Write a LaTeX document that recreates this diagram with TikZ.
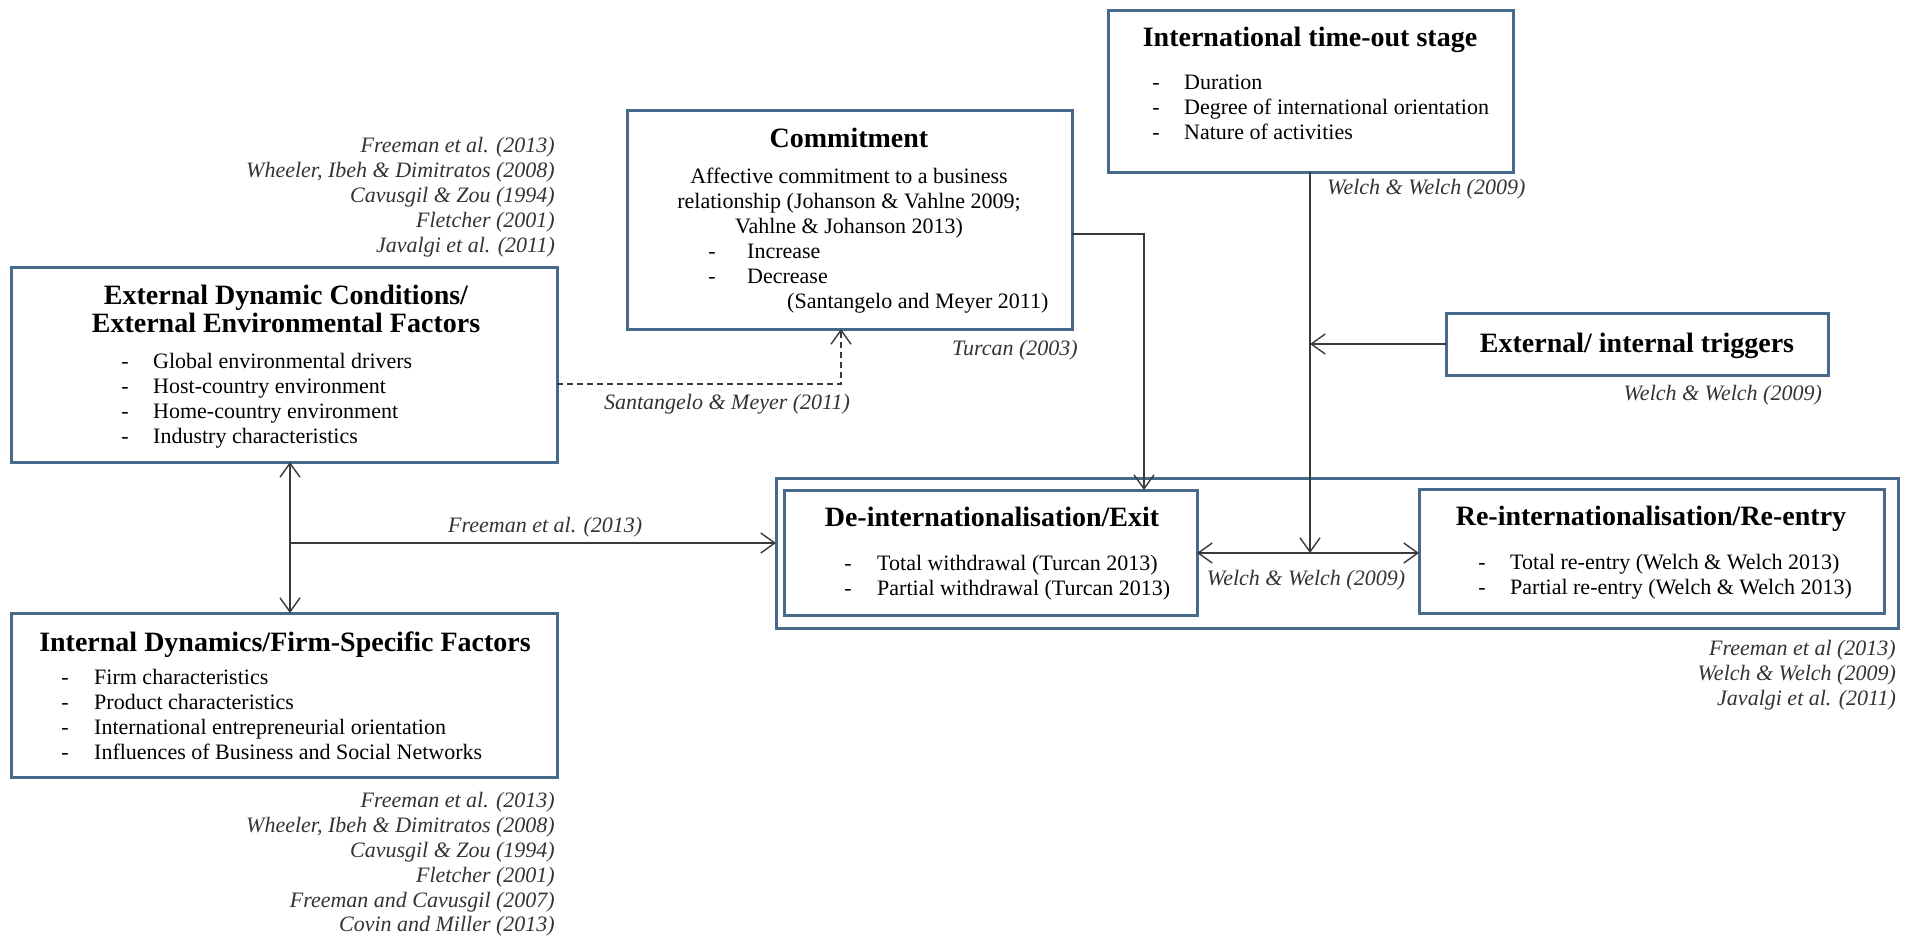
\documentclass[tikz,border=0pt]{standalone}
\usepackage{fontspec}
\setmainfont{Liberation Serif}
\usetikzlibrary{arrows.meta}
\definecolor{boxblue}{HTML}{46698C}
\definecolor{linegray}{HTML}{3A3A3A}
\definecolor{citegray}{HTML}{333333}
\newcommand{\ttlsize}{\fontsize{28}{28}\selectfont\bfseries}
\newcommand{\bodysize}{\fontsize{22}{25}\selectfont}
\newcommand{\citesize}{\fontsize{22}{25}\selectfont\itshape}
% bullet row: name, dash x, text x, baseline y, text
\newcommand{\itemrow}[5]{%
  \node[txt,anchor=base] (#1d) at (#2,#4) {-};
  \node[txt,anchor=base west] (#1) at (#3,#4) {#5};}
% right-aligned italic reference: name, right x, baseline y, text
\newcommand{\citeR}[4]{\node[cite,anchor=base east] (#1) at (#2,#3) {#4};}
\begin{document}
\begin{tikzpicture}[x=1pt,y=-1pt,
  box/.style={draw=boxblue,line width=3pt,inner sep=0pt,outer sep=0pt,rectangle},
  conn/.style={draw=linegray,line width=1.4pt},
  >={Straight Barb[length=14pt,width=20pt]},
  ttl/.style={font=\ttlsize,inner sep=0pt,anchor=base},
  txt/.style={font=\bodysize,inner sep=0pt},
  cite/.style={font=\citesize,text=citegray,inner sep=0pt},
]
\fill[white] (0,0) rectangle (1914,937);
\useasboundingbox (0,0) rectangle (1914,937);

% ---------- boxes ----------
\node[box,minimum width=546pt,minimum height=195pt] (ext) at (284,364.5) {};
\node[box,minimum width=546pt,minimum height=164pt] (int) at (284,695) {};
\node[box,minimum width=445pt,minimum height=219pt] (com) at (849.5,219.5) {};
\node[box,minimum width=405pt,minimum height=162pt] (tout) at (1310.5,91) {};
\node[box,minimum width=382pt,minimum height=62pt] (trig) at (1637,344) {};
\node[box,minimum width=1122pt,minimum height=150pt] (outer) at (1337,553) {};
\node[box,minimum width=413pt,minimum height=125pt] (deint) at (990.5,552.5) {};
\node[box,minimum width=465pt,minimum height=124pt] (reint) at (1651.5,551) {};

% ---------- external factors ----------
\citeR{ca1}{555}{152}{Freeman et al. (2013)}
\citeR{ca2}{555}{177}{Wheeler, Ibeh \& Dimitratos (2008)}
\citeR{ca3}{555}{202}{Cavusgil \& Zou (1994)}
\citeR{ca4}{555}{227}{Fletcher (2001)}
\citeR{ca5}{555}{252}{Javalgi et al. (2011)}
\node[ttl] (extt1) at (286,304) {External Dynamic Conditions/};
\node[ttl] (extt2) at (286,332) {External Environmental Factors};
\itemrow{exa}{125}{153}{368}{Global environmental drivers}
\itemrow{exb}{125}{153}{393}{Host-country environment}
\itemrow{exc}{125}{153}{418}{Home-country environment}
\itemrow{exd}{125}{153}{443}{Industry characteristics}

% ---------- internal factors ----------
\node[ttl] (intt) at (285,651) {Internal Dynamics/Firm-Specific Factors};
\itemrow{ina}{65}{94}{684}{Firm characteristics}
\itemrow{inb}{65}{94}{709}{Product characteristics}
\itemrow{inc}{65}{94}{734}{International entrepreneurial orientation}
\itemrow{ind}{65}{94}{759}{Influences of Business and Social Networks}
\citeR{cb1}{555}{807}{Freeman et al. (2013)}
\citeR{cb2}{555}{832}{Wheeler, Ibeh \& Dimitratos (2008)}
\citeR{cb3}{555}{857}{Cavusgil \& Zou (1994)}
\citeR{cb4}{555}{882}{Fletcher (2001)}
\citeR{cb5}{555}{907}{Freeman and Cavusgil (2007)}
\citeR{cb6}{555}{931}{Covin and Miller (2013)}

% ---------- commitment ----------
\node[ttl] (comt) at (849,147) {Commitment};
\node[txt,anchor=base] (coml1) at (849,183) {Affective commitment to a business};
\node[txt,anchor=base] (coml2) at (849,208) {relationship (Johanson \& Vahlne 2009;};
\node[txt,anchor=base] (coml3) at (849,233) {Vahlne \& Johanson 2013)};
\itemrow{cma}{712}{747}{258}{Increase}
\itemrow{cmb}{712}{747}{283}{Decrease}
\node[txt,anchor=base west] (coml4) at (787,308) {(Santangelo and Meyer 2011)};
\citeR{cturc}{1078}{355}{Turcan (2003)}

% ---------- time-out stage ----------
\node[ttl] (toutt) at (1310,46) {International time-out stage};
\itemrow{toa}{1156}{1184}{89}{Duration}
\itemrow{tob}{1156}{1184}{114}{Degree of international orientation}
\itemrow{toc}{1156}{1184}{139}{Nature of activities}
\node[cite,anchor=base west] (ctout) at (1327,194) {Welch \& Welch (2009)};

% ---------- triggers ----------
\node[ttl] (trigt) at (1637,352) {External/ internal triggers};
\citeR{ctrig}{1822}{400}{Welch \& Welch (2009)}

% ---------- exit / re-entry ----------
\node[ttl] (deintt) at (992,526) {De-internationalisation/Exit};
\itemrow{dea}{848}{877}{570}{Total withdrawal (Turcan 2013)}
\itemrow{deb}{848}{877}{595}{Partial withdrawal (Turcan 2013)}
\node[ttl] (reintt) at (1651,525) {Re-internationalisation/Re-entry};
\itemrow{rea}{1482}{1510}{569}{Total re-entry (Welch \& Welch 2013)}
\itemrow{reb}{1482}{1510}{594}{Partial re-entry (Welch \& Welch 2013)}
\citeR{cc1}{1896}{655}{Freeman et al (2013)}
\citeR{cc2}{1896}{680}{Welch \& Welch (2009)}
\citeR{cc3}{1896}{705}{Javalgi et al. (2011)}

% ---------- connectors ----------
\coordinate (j1) at (290,543);
\draw[conn,<->] (ext.south -| j1) -- (int.north -| j1);
\draw[conn,->] (j1) -- (j1 -| outer.west);
\node[cite,anchor=base west] (lblfree) at (448,532) {Freeman et al. (2013)};

\coordinate (d1) at (841,384);
\draw[conn,dash pattern=on 6pt off 4pt,->] (d1 -| ext.east) -- (d1) -- (d1 |- com.south);
\node[cite,anchor=base] (lblsm) at (727,409) {Santangelo \& Meyer (2011)};

\coordinate (c1) at (1144,234);
\draw[conn,->] (c1 -| com.east) -- (c1) -- (c1 |- deint.north);

\coordinate (t1) at (1310,553);
\draw[conn,->] (tout.south -| t1) -- (t1);
\draw[conn,->] (trig.west) -- (trig.west -| t1);
\draw[conn,<->] (deint.east |- t1) -- (reint.west |- t1);
\node[cite,anchor=base] (lblww) at (1306,585) {Welch \& Welch (2009)};
\end{tikzpicture}
\end{document}
